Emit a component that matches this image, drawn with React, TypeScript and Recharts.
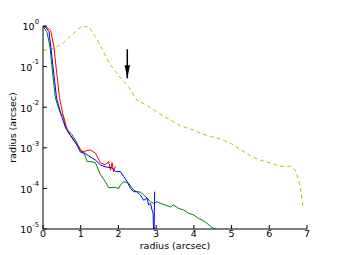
import React from 'react';
import { ComposedChart, Line, XAxis, YAxis } from 'recharts';

// ---- data ----
const yellowX = [0, 0.3, 0.55, 0.81, 1.0, 1.2, 1.39, 1.56, 1.74, 1.92, 2.1, 2.27, 2.49, 2.76, 3.06, 3.35, 3.64, 3.91, 4.17, 4.44, 4.7, 4.97, 5.23, 5.5, 5.76, 6.03, 6.29, 6.56, 6.69, 6.78, 6.84, 6.9];
const yellowY = [0.25, 0.28, 0.39, 0.66, 0.94, 1.0, 0.55, 0.28, 0.13, 0.075, 0.047, 0.032, 0.015, 0.011, 7.2e-3, 5.0e-3, 3.5e-3, 2.9e-3, 2.3e-3, 1.9e-3, 1.65e-3, 1.3e-3, 9.1e-4, 6.3e-4, 5.0e-4, 4.2e-4, 3.5e-4, 3.5e-4, 2.8e-4, 1.6e-4, 8.3e-5, 3.2e-5];

const redX = [0, 0.1, 0.2, 0.29, 0.34, 0.39, 0.44, 0.53, 0.66, 0.81, 0.94, 1.03, 1.25, 1.39, 1.52, 1.65, 1.74, 1.79, 1.83, 1.87, 1.92];
const redY = [1.0, 0.93, 0.79, 0.31, 0.11, 0.043, 0.0166, 6.5e-3, 2.45e-3, 1.55e-3, 1.1e-3, 7.9e-4, 8.9e-4, 7.4e-4, 4.3e-4, 3.8e-4, 4.6e-4, 2.8e-4, 4.3e-4, 2.6e-4, 3.5e-4];

const blueX = [0, 0.08, 0.16, 0.21, 0.26, 0.31, 0.36, 0.48, 0.6, 0.72, 0.9, 0.99, 1.12, 1.25, 1.39, 1.52, 1.65, 1.83, 1.92, 2.05, 2.14, 2.23, 2.32, 2.4, 2.49, 2.58, 2.67, 2.76, 2.8, 2.85, 2.89, 2.92, 2.94, 2.96];
const blueY = [1.0, 0.92, 0.72, 0.29, 0.11, 0.043, 0.0166, 6.5e-3, 3.1e-3, 2.1e-3, 1.17e-3, 7.9e-4, 7.2e-4, 6.0e-4, 5.0e-4, 3.8e-4, 3.4e-4, 3.2e-4, 2.6e-4, 2.6e-4, 1.95e-4, 1.48e-4, 1.0e-4, 8.3e-5, 8.3e-5, 6.9e-5, 5.1e-5, 5.8e-5, 3.9e-5, 4.3e-5, 2.95e-5, 2.45e-5, 5e-6, 8.3e-5];

const greenX = [0, 0.11, 0.19, 0.23, 0.28, 0.33, 0.46, 0.54, 0.6, 0.77, 0.9, 0.99, 1.08, 1.17, 1.25, 1.39, 1.52, 1.65, 1.74, 1.83, 1.92, 2.01, 2.05, 2.14, 2.27, 2.4, 2.49, 2.58, 2.67, 2.76, 2.85, 2.93, 3.02, 3.11, 3.24, 3.38, 3.46, 3.6, 3.73, 3.86, 4.0, 4.13, 4.22, 4.35, 4.44, 4.52, 4.57];
const greenY = [1.0, 0.68, 0.29, 0.11, 0.043, 0.0166, 7.2e-3, 6.0e-3, 3.1e-3, 2.1e-3, 1.3e-3, 8.9e-4, 7.9e-4, 4.6e-4, 4.6e-4, 4.3e-4, 2.2e-4, 1.48e-4, 1.05e-4, 1.05e-4, 1.05e-4, 1.0e-4, 1.2e-4, 1.48e-4, 1.35e-4, 9.1e-5, 8.3e-5, 8.1e-5, 6.9e-5, 5.8e-5, 4.7e-5, 4.3e-5, 4.7e-5, 4.3e-5, 3.9e-5, 3.5e-5, 3.9e-5, 3.2e-5, 2.95e-5, 2.45e-5, 2.2e-5, 1.8e-5, 1.66e-5, 1.38e-5, 1.15e-5, 1.05e-5, 1.0e-5];

const arrowX = [2.235, 2.235];
const arrowY = [0.267, 0.0515];

const xTicks = [0, 1, 2, 3, 4, 5, 6, 7];
const yTicks = [1e-5, 1e-4, 1e-3, 1e-2, 1e-1, 1];
const minorMultipliers = [2, 3, 4, 5, 6, 7, 8, 9];

const yMinorTicks: number[] = [];
[1e-5, 1e-4, 1e-3, 1e-2, 1e-1].forEach((d) => minorMultipliers.forEach((m) => yMinorTicks.push(m * d)));

const pts = (xs: number[], ys: number[]) => xs.map((x, i) => ({ x, y: ys[i] }));
const yellowData = pts(yellowX, yellowY);
const redData = pts(redX, redY);
const blueData = pts(blueX, blueY);
const greenData = pts(greenX, greenY);
const arrowData = pts(arrowX, arrowY);

const FONT = 'DejaVu Sans';

const XTick = (props: any) => {
  const { x, y, payload } = props;
  return (
    <text x={x} y={y} dy="0.71em" textAnchor="middle" fontFamily={FONT} fontSize={9.5} fill="#000">
      {payload.value}
    </text>
  );
};

const YTick = (props: any) => {
  const { x, y, payload } = props;
  const exp = Math.round(Math.log10(payload.value));
  return (
    <text x={x} y={y} dy={4.3} textAnchor="end" fontFamily={FONT} fontSize={9.5} fill="#000">
      10
      <tspan dy={-6.5} fontSize={6.8}>{String(exp)}</tspan>
    </text>
  );
};

const NoTick = () => <g />;

const ArrowDot = (props: any) => {
  const { cx, cy, index } = props;
  if (index !== 1) return <g key={`a${index}`} />;
  return <polygon key={`a${index}`} points={`${cx - 2.7},${cy - 13} ${cx + 2.7},${cy - 13} ${cx},${cy}`} fill="#000" />;
};

const XLabel = (props: any) => {
  const { viewBox } = props;
  return (
    <text x={viewBox.x + viewBox.width / 2} y={249} textAnchor="middle" fontFamily={FONT} fontSize={9.5} fill="#000">
      radius (arcsec)
    </text>
  );
};

const YLabel = (props: any) => {
  const { viewBox } = props;
  const cy = viewBox.y + viewBox.height / 2;
  return (
    <text x={16} y={cy} transform={`rotate(-90, 16, ${cy})`} textAnchor="middle" fontFamily={FONT} fontSize={9.5} fill="#000">
      radius (arcsec)
    </text>
  );
};

export default function App() {
  return (
    <div style={{ position: 'absolute', left: 0, top: 0, background: '#fff' }}>
      <ComposedChart width={340} height={255} margin={{ top: 26, right: 33, bottom: 0, left: 0 }}>
        <XAxis
          xAxisId={0}
          type="number"
          dataKey="x"
          domain={[0, 7]}
          ticks={xTicks}
          allowDataOverflow
          height={26}
          tickSize={-4}
          tickMargin={5.5}
          tick={<XTick />}
          stroke="#000"
          label={<XLabel />}
        />
        <XAxis xAxisId="top" orientation="top" type="number" domain={[0, 7]} ticks={xTicks} allowDataOverflow height={0} tickSize={-4} tick={<NoTick />} stroke="#000" />
        <YAxis
          yAxisId={0}
          type="number"
          dataKey="y"
          scale="log"
          domain={[1e-5, 1]}
          ticks={yTicks}
          allowDataOverflow
          width={43}
          tickSize={-4}
          tickMargin={8}
          tick={<YTick />}
          stroke="#000"
          label={<YLabel />}
        />
        <YAxis yAxisId="leftMinor" mirror orientation="left" type="number" scale="log" domain={[1e-5, 1]} ticks={yMinorTicks} allowDataOverflow width={0} tickSize={2} tick={<NoTick />} axisLine={false} stroke="#000" />
        <YAxis yAxisId="right" orientation="right" type="number" scale="log" domain={[1e-5, 1]} ticks={yTicks} allowDataOverflow width={0} tickSize={-4} tick={<NoTick />} stroke="#000" />
        <YAxis yAxisId="rightMinor" orientation="right" type="number" scale="log" domain={[1e-5, 1]} ticks={yMinorTicks} allowDataOverflow width={0} tickSize={-2} tick={<NoTick />} axisLine={false} stroke="#000" />

        <Line data={yellowData} dataKey="y" type="linear" stroke="#bfbf00" strokeWidth={1} strokeDasharray="4 3" dot={false} isAnimationActive={false} />
        <Line data={greenData} dataKey="y" type="linear" stroke="#008000" strokeWidth={1} dot={false} isAnimationActive={false} />
        <Line data={redData} dataKey="y" type="linear" stroke="#ff0000" strokeWidth={1} dot={false} isAnimationActive={false} />
        <Line data={blueData} dataKey="y" type="linear" stroke="#0000ff" strokeWidth={1} dot={false} isAnimationActive={false} />
        <Line data={arrowData} dataKey="y" type="linear" stroke="#000" strokeWidth={1.5} dot={<ArrowDot />} isAnimationActive={false} />
      </ComposedChart>
    </div>
  );
}
